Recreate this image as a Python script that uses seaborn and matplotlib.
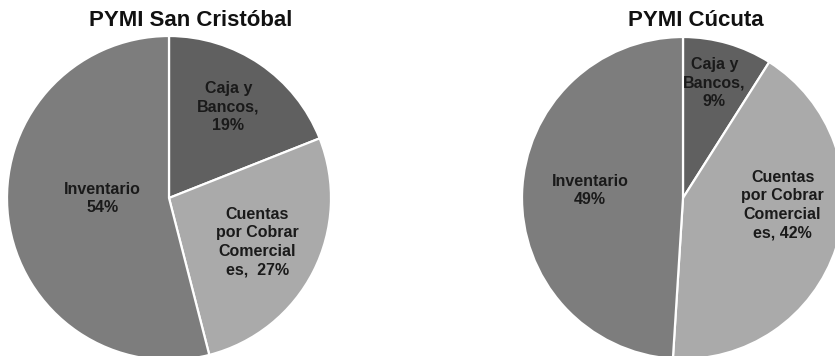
import matplotlib
matplotlib.use("Agg")
import matplotlib.pyplot as plt
import seaborn as sns
import numpy as np

sns.set_theme(style="white")
plt.rcParams['font.family'] = ['Liberation Sans', 'DejaVu Sans']

# ---- data ----
categories = ["Caja y Bancos", "Cuentas por Cobrar Comerciales", "Inventario"]
label_texts_sc = ["Caja y\nBancos,\n19%", "Cuentas\npor Cobrar\nComercial\nes,  27%", "Inventario\n54%"]
label_texts_cu = ["Caja y\nBancos,\n9%", "Cuentas\npor Cobrar\nComercial\nes, 42%", "Inventario\n49%"]
values_sc = [19, 27, 54]
values_cu = [9, 42, 49]
titles = ["PYMI San Cristóbal", "PYMI Cúcuta"]

colors = ["#606060", "#aaaaaa", "#7d7d7d"]

W, H = 835, 356
fig = plt.figure(figsize=(W / 100, H / 100), dpi=100)
fig.patch.set_facecolor("white")

# layout: (center x px, center y px from top, radius px), label (dist, angle offset deg)
layouts = [
    dict(cx=169, cy=198, r=162, title_x=191,
         lab=[(0.67, 1), (0.61, 0.5), (0.41, -7)]),
    dict(cx=683, cy=198, r=161, title_x=696,
         lab=[(0.74, 1), (0.62, 14), (0.58, -3)]),
]

for values, labels, title, lay in zip([values_sc, values_cu], [label_texts_sc, label_texts_cu], titles, layouts):
    r = lay["r"]
    ax = fig.add_axes([(lay["cx"] - r) / W, (H - lay["cy"] - r) / H, 2 * r / W, 2 * r / H])
    wedges, _ = ax.pie(values, colors=colors, startangle=90, counterclock=False,
                       wedgeprops=dict(edgecolor="white", linewidth=1.6))
    ax.set_xlim(-1, 1)
    ax.set_ylim(-1, 1)
    ax.set_aspect("auto")
    for w, txt, (d, off) in zip(wedges, labels, lay["lab"]):
        mid = np.deg2rad((w.theta1 + w.theta2) / 2 + off)
        ax.text(d * np.cos(mid), d * np.sin(mid), txt, ha="center", va="center",
                fontsize=11.5, fontweight="bold", color="#1a1a1a", linespacing=1.28)
    fig.text(lay["title_x"] / W, 1 - 20.5 / H, title, ha="center", va="center",
             fontsize=16, fontweight="bold", color="#111111")

fig.savefig("out.png", dpi=100, facecolor="white")
